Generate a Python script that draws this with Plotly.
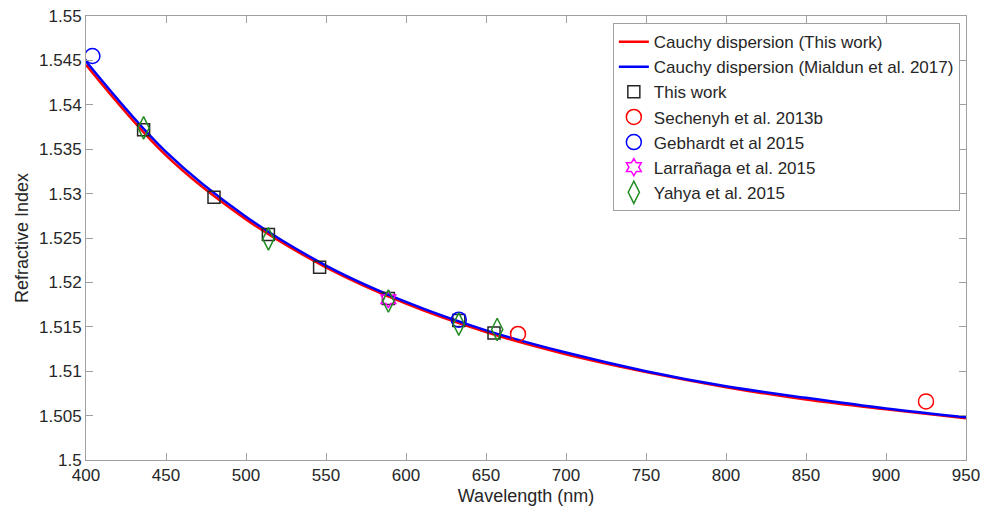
import plotly.graph_objects as go

# Curves
curve_wl = [400, 450, 500, 550, 600, 650, 700, 750, 800, 850, 900, 950]
red_n = [1.5445, 1.5343, 1.5271, 1.5217, 1.5176, 1.5144, 1.5119, 1.5099, 1.5082, 1.5068, 1.5057, 1.5047]
blue_n = [1.5449, 1.5347, 1.5274, 1.5219, 1.5178, 1.5146, 1.5121, 1.5100, 1.5083, 1.5070, 1.5058, 1.5048]

# Data points
this_wl = [436, 480, 514, 546, 589, 633, 655]
this_n = [1.5372, 1.5296, 1.5254, 1.5217, 1.5182, 1.5157, 1.5143]
sech_wl = [670, 925]
sech_n = [1.5142, 1.5066]
geb_wl = [404, 633]
geb_n = [1.5455, 1.5158]
larr_wl = [589]
larr_n = [1.5181]
yahya_wl = [436, 514, 589, 633, 657]
yahya_n = [1.5374, 1.5249, 1.5179, 1.5153, 1.5147]

xticks = list(range(400, 951, 50))
yticks = [1.5, 1.505, 1.51, 1.515, 1.52, 1.525, 1.53, 1.535, 1.54, 1.545, 1.55]
ytext = ["1.5", "1.505", "1.51", "1.515", "1.52", "1.525", "1.53", "1.535", "1.54", "1.545", "1.55"]

FONT = "Liberation Sans, Arial"
TXT = "#262626"

fig = go.Figure()
fig.add_trace(go.Scatter(x=curve_wl, y=red_n, mode="lines", line=dict(color="#ff0000", width=2.5, shape="spline"),
                         name="Cauchy dispersion (This work)"))
fig.add_trace(go.Scatter(x=curve_wl, y=blue_n, mode="lines", line=dict(color="#0000ff", width=2.5, shape="spline"),
                         name="Cauchy dispersion (Mialdun et al. 2017)"))
fig.add_trace(go.Scatter(x=this_wl, y=this_n, mode="markers", name="This work",
                         marker=dict(symbol="square-open", size=12, color=TXT, line=dict(width=1.5))))
fig.add_trace(go.Scatter(x=sech_wl, y=sech_n, mode="markers", name="Sechenyh et al. 2013b",
                         marker=dict(symbol="circle-open", size=15, color="#ff0000", line=dict(width=1.5))))
fig.add_trace(go.Scatter(x=geb_wl, y=geb_n, mode="markers", name="Gebhardt et al 2015",
                         marker=dict(symbol="circle-open", size=15, color="#0000ff", line=dict(width=1.5))))
fig.add_trace(go.Scatter(x=larr_wl, y=larr_n, mode="markers", name="Larrañaga et al. 2015",
                         marker=dict(symbol="hexagram-open", size=13, color="#ff00ff", line=dict(width=1.5))))
fig.add_trace(go.Scatter(x=yahya_wl, y=yahya_n, mode="markers", name="Yahya et al. 2015",
                         marker=dict(symbol="diamond-tall-open", size=16, color="#228B22", line=dict(width=1.5))))

axis_common = dict(showline=True, linecolor="#a0a0a0", linewidth=1, mirror="ticks", ticks="inside",
                   ticklen=7, tickcolor="#a0a0a0", showgrid=False, zeroline=False, automargin=False,
                   tickfont=dict(family=FONT, size=17, color=TXT))

fig.update_xaxes(range=[400, 950], tickvals=xticks,
                 title=dict(text="Wavelength (nm)", font=dict(family=FONT, size=18, color=TXT), standoff=4),
                 **axis_common)
fig.update_yaxes(range=[1.5, 1.55], tickvals=yticks, ticktext=ytext,
                 title=dict(text="Refractive Index", font=dict(family=FONT, size=18, color=TXT), standoff=5),
                 **axis_common)

fig.update_layout(width=984, height=516, paper_bgcolor="white", plot_bgcolor="white",
                  margin=dict(l=86, r=18, t=16, b=56),
                  legend=dict(x=0.993, y=0.984, xanchor="right", yanchor="top",
                              bgcolor="white", bordercolor="#a0a0a0", borderwidth=1,
                              font=dict(family=FONT, size=17, color=TXT),
                              tracegroupgap=0, itemwidth=30),
                  showlegend=True)

fig.write_html("out.html", config={"displayModeBar": False},
               post_script="document.body.style.margin='0';document.body.style.overflow='hidden';")
